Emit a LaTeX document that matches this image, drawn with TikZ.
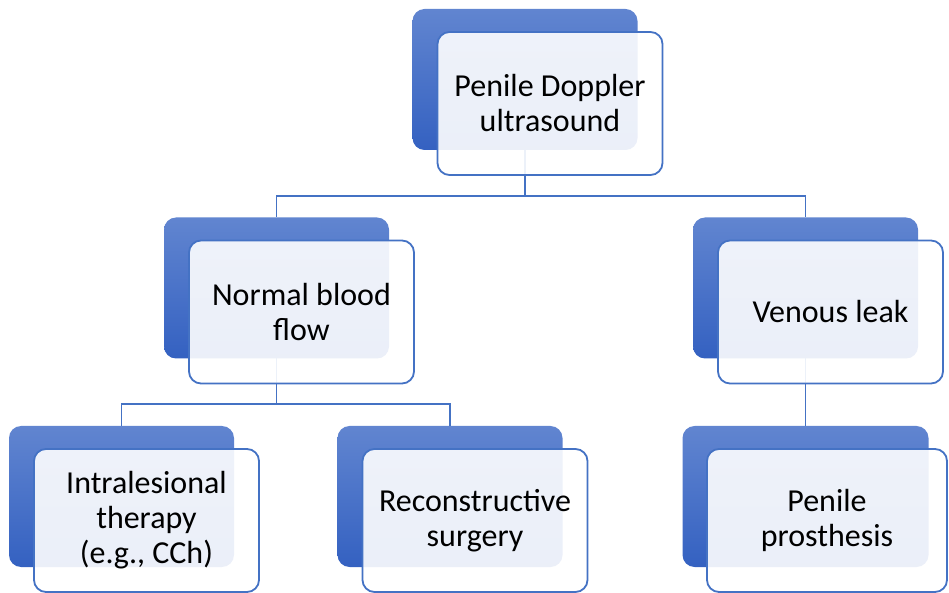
\documentclass[tikz,border=0pt]{standalone}
\usepackage{fontspec}
\setmainfont{Carlito}
\usetikzlibrary{positioning}
\definecolor{AccentBlue}{HTML}{4472C4}
\definecolor{ShadeTop}{HTML}{6185D0}
\definecolor{ShadeBottom}{HTML}{3461C1}

\begin{document}
\begin{tikzpicture}[x=0.5pt, y=-0.5pt,
  back/.style={rounded corners=6pt, minimum width=112.5pt,
               minimum height=70.5pt, inner sep=0pt, outer sep=0pt,
               top color=ShadeTop, bottom color=ShadeBottom},
  front/.style={draw=AccentBlue, line width=0.9pt, fill=white,
                fill opacity=0.9, text opacity=1, rounded corners=6pt,
                minimum width=112.5pt, minimum height=71.5pt, inner sep=0pt,
                align=center, font=\fontsize{16}{17.5}\selectfont,
                xshift=12.5pt, yshift=-12pt},
  link/.style={draw=AccentBlue, line width=0.8pt}
]
  \useasboundingbox (0,0) rectangle (949,593);

  \node[back] (bTop)    at (525,79.5)   {};
  \node[back] (bNormal) at (276.5,288)  {};
  \node[back] (bVenous) at (805.5,288)  {};
  \node[back] (bIntra)  at (121.5,496.5) {};
  \node[back] (bRecon)  at (450,496.5)  {};
  \node[back, minimum width=123pt] (bProsth) at (805.5,496.5) {};

  \coordinate (j1) at (bTop.south |- 0,196);
  \coordinate (j2) at (bNormal.south |- 0,404);
  \draw[link] (bTop.south) -- (j1) -| (bNormal.north);
  \draw[link] (j1) -| (bVenous.north);
  \draw[link] (bNormal.south) -- (j2) -| (bIntra.north);
  \draw[link] (j2) -| (bRecon.north);
  \draw[link] (bVenous.south) -- (bProsth.north);

  \node[front] (fTop)    at (bTop)    {Penile Doppler\\ultrasound};
  \node[front] (fNormal) at (bNormal) {Normal blood\\flow};
  \node[front] (fVenous) at (bVenous) {Venous leak};
  \node[front] (fIntra)  at (bIntra)  {Intralesional\\therapy\\(e.g., CCh)};
  \node[front] (fRecon)  at (bRecon)  {Reconstructive\\surgery};
  \node[front, minimum width=120pt, xshift=-1.75pt] (fProsth) at (bProsth)
    {Penile\\prosthesis};
\end{tikzpicture}
\end{document}
